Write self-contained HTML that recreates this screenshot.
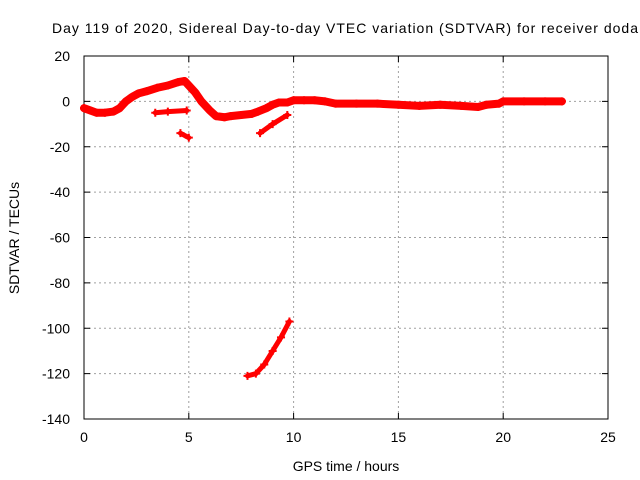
<!DOCTYPE html>
<html><head><meta charset="utf-8"><style>
body{margin:0;background:#fff;}
svg{display:block;font-family:"Liberation Sans",sans-serif;}
</style></head><body>
<svg id="c" width="640" height="480" viewBox="0 0 640 480">
<text x="52" y="33" font-size="14" textLength="586" lengthAdjust="spacing">Day 119 of 2020, Sidereal Day-to-day VTEC variation (SDTVAR) for receiver doda</text>
<g id="grid"></g>
<g id="axes"></g>
<g id="marks"></g>
<text x="346" y="471" font-size="14" text-anchor="middle">GPS time / hours</text>
<text transform="translate(19,238) rotate(-90)" font-size="14" text-anchor="middle">SDTVAR / TECUs</text>
</svg>
<script>
const xTicks=[0,5,10,15,20,25];
const yTicks=[20,0,-20,-40,-60,-80,-100,-120,-140];
const mainT=[0,0.3,0.6,1.0,1.4,1.7,2.0,2.3,2.6,3.0,3.5,4.0,4.5,4.8,5.0,5.3,5.6,6.0,6.3,6.7,7.0,7.5,8.0,8.3,8.7,9.0,9.3,9.7,10.0,10.5,11,11.5,12,13,14,15,16,17,18,18.8,19.2,19.8,20,21,22,22.8];
const mainV=[-3,-4,-5,-5,-4.5,-3,0,2,3.5,4.5,6,7,8.5,9,7,4,0,-4,-6.5,-7,-6.5,-6,-5.5,-4.5,-3,-1.5,-0.5,-0.5,0.5,0.5,0.5,0,-1,-1,-1,-1.5,-2,-1.5,-2,-2.5,-1.5,-1,0,0,0,0];
const seg2T=[3.4,4.0,4.9], seg2V=[-5,-4.5,-4];
const seg3T=[4.6,5.0], seg3V=[-14,-16];
const seg4T=[8.4,9.0,9.7], seg4V=[-14,-10,-6];
const seg5T=[7.8,8.2,8.6,9.0,9.4,9.8], seg5V=[-121,-120,-116,-110,-104,-97];
const X0=84,X1=608,Y0=56,Y1=419;
const sx=t=>X0+(t-0)/25*(X1-X0);
const sy=v=>Y0+(20-v)/160*(Y1-Y0);
const NS="http://www.w3.org/2000/svg";
function mk(tag,attrs,parent){const e=document.createElementNS(NS,tag);for(const k in attrs)e.setAttribute(k,attrs[k]);parent.appendChild(e);return e;}
const grid=document.getElementById('grid'),axes=document.getElementById('axes'),marks=document.getElementById('marks');
xTicks.forEach(t=>{
 if(t>0&&t<25){const l=mk('line',{x1:sx(t),x2:sx(t),y1:Y0,y2:Y1,stroke:'#a0a0a0','stroke-dasharray':'2,3'},grid);
 
 }
 mk('line',{x1:sx(t),x2:sx(t),y1:Y1,y2:Y1-6,stroke:'#000'},axes);
 mk('line',{x1:sx(t),x2:sx(t),y1:Y0,y2:Y0+6,stroke:'#000'},axes);
 const tx=mk('text',{x:sx(t),y:Y1+23,'font-size':14,'text-anchor':'middle'},axes);tx.textContent=t;
 
 
});
yTicks.forEach(v=>{
 if(v<20&&v>-140){const l=mk('line',{x1:X0,x2:X1,y1:sy(v),y2:sy(v),stroke:'#a0a0a0','stroke-dasharray':'2,3'},grid);
 
 }
 mk('line',{x1:X0,x2:X0+6,y1:sy(v),y2:sy(v),stroke:'#000'},axes);
 mk('line',{x1:X1,x2:X1-6,y1:sy(v),y2:sy(v),stroke:'#000'},axes);
 const tx=mk('text',{x:X0-14,y:sy(v)+5,'font-size':14,'text-anchor':'end'},axes);tx.textContent=v;
 
 
});
const fr=mk('rect',{x:X0,y:Y0,width:X1-X0,height:Y1-Y0,fill:'none',stroke:'#000'},axes);


function series(T,V,w,name){
 const p=mk('polyline',{points:T.map((t,i)=>sx(t)+','+sy(V[i])).join(' '),fill:'none',stroke:'#f00','stroke-width':w,'stroke-linejoin':'round','stroke-linecap':'round'},marks);
 
 
 T.forEach((t,i)=>{const x=sx(t),y=sy(V[i]);
  const m=mk('path',{d:`M${x-4},${y}H${x+4}M${x},${y-4}V${y+4}`,stroke:'#f00','stroke-width':2},marks);
  
  });
}
series(mainT,mainV,8,'main-trace');
series(seg2T,seg2V,5,'trace-segment-2');
series(seg3T,seg3V,5,'trace-segment-3');
series(seg4T,seg4V,5,'trace-segment-4');
series(seg5T,seg5V,5,'trace-segment-5');
</script>
</body></html>
